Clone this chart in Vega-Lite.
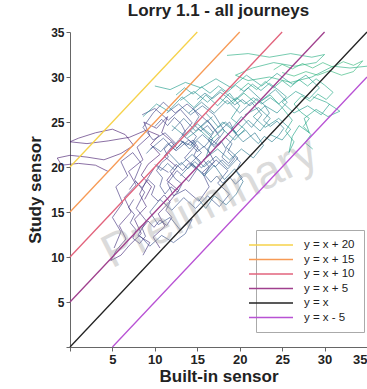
{
  "$schema": "https://vega.github.io/schema/vega-lite/v6.json",
  "width": 297,
  "height": 315,
  "autosize": "none",
  "padding": {"left": 70, "top": 32, "right": 0, "bottom": 42},
  "background": "white",
  "config": {
    "view": {"stroke": null},
    "font": "Liberation Sans",
    "axis": {"grid": false, "domainColor": "#666", "tickColor": "#666", "labelFont": "Liberation Sans", "titleFont": "Liberation Sans", "labelFontWeight": "bold", "titleFontWeight": "bold", "labelColor": "#222", "titleColor": "#222", "tickSize": 4, "labelPadding": 2, "titleFontSize": 17}
  },
  "title": {"text": "Lorry 1.1 - all journeys", "fontSize": 17, "font": "Liberation Sans", "fontWeight": "bold", "color": "#222", "offset": 6, "anchor": "middle"},
  "datasets": {
    "refs": [
      {"ref": "y = x + 20", "x": 0, "y": 20}, {"ref": "y = x + 20", "x": 15, "y": 35},
      {"ref": "y = x + 15", "x": 0, "y": 15}, {"ref": "y = x + 15", "x": 20, "y": 35},
      {"ref": "y = x + 10", "x": 0, "y": 10}, {"ref": "y = x + 10", "x": 25, "y": 35},
      {"ref": "y = x + 5", "x": 0, "y": 5}, {"ref": "y = x + 5", "x": 30, "y": 35},
      {"ref": "y = x", "x": 0, "y": 0}, {"ref": "y = x", "x": 35, "y": 35},
      {"ref": "y = x - 5", "x": 5, "y": 0}, {"ref": "y = x - 5", "x": 35, "y": 30}
    ],
    "journeys": [
      {"j":1,"c":0.08,"x":4.5,"y":19.5},{"j":1,"c":0.08,"x":3,"y":20.2},{"j":1,"c":0.08,"x":1,"y":20.4},{"j":1,"c":0.08,"x":-1,"y":20.2},{"j":1,"c":0.08,"x":-1.5,"y":21},{"j":1,"c":0.08,"x":0,"y":21.3},{"j":1,"c":0.08,"x":2,"y":21.1},{"j":1,"c":0.08,"x":4,"y":20.8},{"j":1,"c":0.08,"x":6,"y":21.5},{"j":1,"c":0.08,"x":7.5,"y":22.4},{"j":1,"c":0.08,"x":6.5,"y":23.6},{"j":1,"c":0.08,"x":5,"y":24.2},{"j":1,"c":0.08,"x":3,"y":23.8},{"j":1,"c":0.08,"x":1,"y":23.2},{"j":1,"c":0.08,"x":0,"y":22.8},{"j":1,"c":0.08,"x":2,"y":22.6},{"j":1,"c":0.08,"x":4.5,"y":22.9},{"j":1,"c":0.08,"x":7,"y":23.3},{"j":1,"c":0.08,"x":9,"y":24.1},{"j":1,"c":0.08,"x":10.5,"y":23.5},{"j":1,"c":0.08,"x":9.5,"y":22.5},{"j":1,"c":0.08,"x":10.6,"y":21.4},{"j":1,"c":0.08,"x":9.2,"y":20.3},{"j":1,"c":0.08,"x":8.4,"y":19.1},{"j":1,"c":0.08,"x":9.6,"y":17.8},{"j":1,"c":0.08,"x":8.8,"y":16.4},
      {"j":2,"c":0.12,"x":10,"y":20},{"j":2,"c":0.12,"x":9,"y":18.5},{"j":2,"c":0.12,"x":8.2,"y":17},{"j":2,"c":0.12,"x":9,"y":15.6},{"j":2,"c":0.12,"x":7.6,"y":14.2},{"j":2,"c":0.12,"x":8.4,"y":12.6},{"j":2,"c":0.12,"x":7,"y":11.3},{"j":2,"c":0.12,"x":6,"y":10.2},{"j":2,"c":0.12,"x":4.8,"y":9.6},{"j":2,"c":0.12,"x":5.5,"y":10.8},{"j":2,"c":0.12,"x":6.6,"y":12},{"j":2,"c":0.12,"x":5.8,"y":13.5},{"j":2,"c":0.12,"x":7.2,"y":15},{"j":2,"c":0.12,"x":6.4,"y":16.6},{"j":2,"c":0.12,"x":7.8,"y":18},{"j":2,"c":0.12,"x":6.9,"y":19.5},{"j":2,"c":0.12,"x":8.6,"y":20.8},{"j":2,"c":0.12,"x":7.9,"y":22.2},{"j":2,"c":0.12,"x":9.4,"y":23.5},{"j":2,"c":0.12,"x":8.7,"y":25},{"j":2,"c":0.12,"x":10.2,"y":24.3},{"j":2,"c":0.12,"x":11.5,"y":25.6},{"j":2,"c":0.12,"x":10.8,"y":23.8},{"j":2,"c":0.12,"x":12.3,"y":22.6},{"j":2,"c":0.12,"x":11.1,"y":21.2},{"j":2,"c":0.12,"x":12.6,"y":20},{"j":2,"c":0.12,"x":11.4,"y":18.5},{"j":2,"c":0.12,"x":12.8,"y":17.4},{"j":2,"c":0.12,"x":11.6,"y":16},{"j":2,"c":0.12,"x":10.4,"y":14.8},{"j":2,"c":0.12,"x":11.2,"y":13.4},{"j":2,"c":0.12,"x":9.8,"y":12.2},{"j":2,"c":0.12,"x":10.6,"y":11},
      {"j":3,"c":0.2,"x":8.5,"y":25.8},{"j":3,"c":0.2,"x":10,"y":26.5},{"j":3,"c":0.2,"x":11.6,"y":25.2},{"j":3,"c":0.2,"x":13,"y":26.4},{"j":3,"c":0.2,"x":14.4,"y":24.9},{"j":3,"c":0.2,"x":13.2,"y":23.6},{"j":3,"c":0.2,"x":14.8,"y":22.4},{"j":3,"c":0.2,"x":13.5,"y":21},{"j":3,"c":0.2,"x":15,"y":19.8},{"j":3,"c":0.2,"x":14,"y":18.4},{"j":3,"c":0.2,"x":12.6,"y":19.6},{"j":3,"c":0.2,"x":11.5,"y":18.2},{"j":3,"c":0.2,"x":12.2,"y":16.8},{"j":3,"c":0.2,"x":13.6,"y":17.5},{"j":3,"c":0.2,"x":15.2,"y":16.2},{"j":3,"c":0.2,"x":16.4,"y":17.8},{"j":3,"c":0.2,"x":15.6,"y":19.4},{"j":3,"c":0.2,"x":17,"y":20.6},{"j":3,"c":0.2,"x":16.2,"y":22},{"j":3,"c":0.2,"x":17.6,"y":23.4},{"j":3,"c":0.2,"x":16.5,"y":24.8},{"j":3,"c":0.2,"x":15.2,"y":25.9},{"j":3,"c":0.2,"x":13.8,"y":27},{"j":3,"c":0.2,"x":12.4,"y":26},{"j":3,"c":0.2,"x":11,"y":27.2},{"j":3,"c":0.2,"x":9.8,"y":26},{"j":3,"c":0.2,"x":8.6,"y":24.4},{"j":3,"c":0.2,"x":9.8,"y":23},{"j":3,"c":0.2,"x":11.2,"y":23.8},{"j":3,"c":0.2,"x":12.6,"y":22.5},{"j":3,"c":0.2,"x":11.4,"y":21.4},{"j":3,"c":0.2,"x":10.2,"y":20.2},{"j":3,"c":0.2,"x":11.6,"y":19.4},
      {"j":4,"c":0.26,"x":9.5,"y":22},{"j":4,"c":0.26,"x":11,"y":23.2},{"j":4,"c":0.26,"x":12.5,"y":21.8},{"j":4,"c":0.26,"x":14,"y":23},{"j":4,"c":0.26,"x":15.5,"y":21.6},{"j":4,"c":0.26,"x":14.2,"y":20.4},{"j":4,"c":0.26,"x":15.8,"y":19.2},{"j":4,"c":0.26,"x":17.2,"y":20.8},{"j":4,"c":0.26,"x":18.6,"y":19.6},{"j":4,"c":0.26,"x":17.4,"y":18.2},{"j":4,"c":0.26,"x":18.8,"y":17},{"j":4,"c":0.26,"x":17.6,"y":15.6},{"j":4,"c":0.26,"x":16.2,"y":16.8},{"j":4,"c":0.26,"x":14.8,"y":15.4},{"j":4,"c":0.26,"x":13.4,"y":16.6},{"j":4,"c":0.26,"x":12,"y":15.2},{"j":4,"c":0.26,"x":10.6,"y":16.4},{"j":4,"c":0.26,"x":9.4,"y":15},{"j":4,"c":0.26,"x":10.4,"y":13.6},{"j":4,"c":0.26,"x":11.8,"y":14.4},{"j":4,"c":0.26,"x":13,"y":13},{"j":4,"c":0.26,"x":14.4,"y":14.2},{"j":4,"c":0.26,"x":13.6,"y":12.6},{"j":4,"c":0.26,"x":12.2,"y":11.6},{"j":4,"c":0.26,"x":10.8,"y":12.4},{"j":4,"c":0.26,"x":9.4,"y":11.2},{"j":4,"c":0.26,"x":8.2,"y":12.4},
      {"j":5,"c":0.32,"x":12,"y":24},{"j":5,"c":0.32,"x":13.4,"y":25.4},{"j":5,"c":0.32,"x":14.8,"y":24},{"j":5,"c":0.32,"x":16.2,"y":25.2},{"j":5,"c":0.32,"x":17.4,"y":23.8},{"j":5,"c":0.32,"x":18.8,"y":25},{"j":5,"c":0.32,"x":19.6,"y":23.6},{"j":5,"c":0.32,"x":18.4,"y":22.2},{"j":5,"c":0.32,"x":19.8,"y":21},{"j":5,"c":0.32,"x":18.6,"y":19.8},{"j":5,"c":0.32,"x":17.2,"y":21.2},{"j":5,"c":0.32,"x":15.8,"y":20},{"j":5,"c":0.32,"x":14.4,"y":21.4},{"j":5,"c":0.32,"x":13,"y":20.2},{"j":5,"c":0.32,"x":11.6,"y":21.6},{"j":5,"c":0.32,"x":12.8,"y":23},{"j":5,"c":0.32,"x":14.2,"y":22.4},{"j":5,"c":0.32,"x":15.6,"y":23.6},{"j":5,"c":0.32,"x":17,"y":22.4},{"j":5,"c":0.32,"x":18.2,"y":24},{"j":5,"c":0.32,"x":17,"y":25.8},{"j":5,"c":0.32,"x":15.6,"y":26.8},{"j":5,"c":0.32,"x":14.2,"y":25.8},{"j":5,"c":0.32,"x":12.8,"y":27},{"j":5,"c":0.32,"x":11.4,"y":26},
      {"j":6,"c":0.4,"x":14,"y":26},{"j":6,"c":0.4,"x":15.5,"y":27.2},{"j":6,"c":0.4,"x":17,"y":26},{"j":6,"c":0.4,"x":18.5,"y":27.4},{"j":6,"c":0.4,"x":20,"y":26},{"j":6,"c":0.4,"x":21.4,"y":27.2},{"j":6,"c":0.4,"x":22.6,"y":25.8},{"j":6,"c":0.4,"x":21.4,"y":24.4},{"j":6,"c":0.4,"x":20.2,"y":25.6},{"j":6,"c":0.4,"x":19,"y":24.2},{"j":6,"c":0.4,"x":20.4,"y":22.8},{"j":6,"c":0.4,"x":21.8,"y":23.8},{"j":6,"c":0.4,"x":22.8,"y":22.4},{"j":6,"c":0.4,"x":21.6,"y":21},{"j":6,"c":0.4,"x":20.2,"y":22},{"j":6,"c":0.4,"x":18.8,"y":20.8},{"j":6,"c":0.4,"x":17.4,"y":22},{"j":6,"c":0.4,"x":16,"y":21},{"j":6,"c":0.4,"x":16.8,"y":23.2},{"j":6,"c":0.4,"x":15.4,"y":24.4},{"j":6,"c":0.4,"x":16.8,"y":25.6},
      {"j":7,"c":0.48,"x":13,"y":27.4},{"j":7,"c":0.48,"x":14.6,"y":28.4},{"j":7,"c":0.48,"x":16.2,"y":27.2},{"j":7,"c":0.48,"x":17.8,"y":28.6},{"j":7,"c":0.48,"x":19.4,"y":27.4},{"j":7,"c":0.48,"x":21,"y":28.8},{"j":7,"c":0.48,"x":22.6,"y":27.4},{"j":7,"c":0.48,"x":24.2,"y":28.6},{"j":7,"c":0.48,"x":25.6,"y":27.2},{"j":7,"c":0.48,"x":24.4,"y":26},{"j":7,"c":0.48,"x":23,"y":26.8},{"j":7,"c":0.48,"x":21.6,"y":25.6},{"j":7,"c":0.48,"x":23,"y":24.4},{"j":7,"c":0.48,"x":24.6,"y":25.4},{"j":7,"c":0.48,"x":26,"y":24.2},{"j":7,"c":0.48,"x":25,"y":23},{"j":7,"c":0.48,"x":23.6,"y":23.6},
      {"j":8,"c":0.55,"x":10,"y":29},{"j":8,"c":0.55,"x":11.8,"y":28.6},{"j":8,"c":0.55,"x":13.6,"y":29.4},{"j":8,"c":0.55,"x":15.4,"y":28.8},{"j":8,"c":0.55,"x":17.2,"y":29.8},{"j":8,"c":0.55,"x":19,"y":28.8},{"j":8,"c":0.55,"x":20.8,"y":30.2},{"j":8,"c":0.55,"x":22.6,"y":29},{"j":8,"c":0.55,"x":24.4,"y":30.4},{"j":8,"c":0.55,"x":26.2,"y":29.2},{"j":8,"c":0.55,"x":27.8,"y":30.2},{"j":8,"c":0.55,"x":29.4,"y":28.8},{"j":8,"c":0.55,"x":28.2,"y":27.6},{"j":8,"c":0.55,"x":26.6,"y":28.4},{"j":8,"c":0.55,"x":25,"y":27.2},{"j":8,"c":0.55,"x":26.4,"y":26},{"j":8,"c":0.55,"x":28,"y":26.8},{"j":8,"c":0.55,"x":29.6,"y":25.8},{"j":8,"c":0.55,"x":30.6,"y":27},
      {"j":9,"c":0.62,"x":18.5,"y":32.4},{"j":9,"c":0.62,"x":21,"y":32.6},{"j":9,"c":0.62,"x":23.5,"y":32.2},{"j":9,"c":0.62,"x":26,"y":32.6},{"j":9,"c":0.62,"x":28.5,"y":32.2},{"j":9,"c":0.62,"x":30,"y":32.5},{"j":9,"c":0.62,"x":29,"y":31.6},{"j":9,"c":0.62,"x":26.5,"y":31.2},{"j":9,"c":0.62,"x":24,"y":31.6},{"j":9,"c":0.62,"x":21.5,"y":31},{"j":9,"c":0.62,"x":19.5,"y":30.2},{"j":9,"c":0.62,"x":21,"y":29.6},{"j":9,"c":0.62,"x":23.5,"y":30},{"j":9,"c":0.62,"x":26,"y":29.4},{"j":9,"c":0.62,"x":28.5,"y":30},{"j":9,"c":0.62,"x":31,"y":31.2},{"j":9,"c":0.62,"x":33,"y":31},{"j":9,"c":0.62,"x":35,"y":31.2},
      {"j":10,"c":0.58,"x":19,"y":27},{"j":10,"c":0.58,"x":20.5,"y":28.2},{"j":10,"c":0.58,"x":22,"y":27},{"j":10,"c":0.58,"x":23.6,"y":28},{"j":10,"c":0.58,"x":25,"y":26.6},{"j":10,"c":0.58,"x":26.2,"y":25.2},{"j":10,"c":0.58,"x":25.4,"y":24},{"j":10,"c":0.58,"x":26.4,"y":22.8},{"j":10,"c":0.58,"x":25.8,"y":21.6},{"j":10,"c":0.58,"x":26.2,"y":23.4},{"j":10,"c":0.58,"x":27,"y":24.6},{"j":10,"c":0.58,"x":28.2,"y":23.8},{"j":10,"c":0.58,"x":27.6,"y":25.4},{"j":10,"c":0.58,"x":29,"y":26.4},{"j":10,"c":0.58,"x":30.4,"y":25.6},{"j":10,"c":0.58,"x":31.8,"y":26.2},{"j":10,"c":0.58,"x":30.2,"y":27.2},{"j":10,"c":0.58,"x":28.6,"y":27.8},
      {"j":11,"c":0.5,"x":8.6,"y":25.6},{"j":11,"c":0.5,"x":10.2,"y":27},{"j":11,"c":0.5,"x":11.6,"y":26.2},{"j":11,"c":0.5,"x":13.2,"y":27.8},{"j":11,"c":0.5,"x":14.6,"y":26.6},{"j":11,"c":0.5,"x":16,"y":28},{"j":11,"c":0.5,"x":17.4,"y":26.8},{"j":11,"c":0.5,"x":18.8,"y":28.2},{"j":11,"c":0.5,"x":20,"y":26.8},{"j":11,"c":0.5,"x":19,"y":25.4},{"j":11,"c":0.5,"x":20.6,"y":24.2},{"j":11,"c":0.5,"x":19.4,"y":23},{"j":11,"c":0.5,"x":18,"y":24.2},{"j":11,"c":0.5,"x":16.6,"y":23},{"j":11,"c":0.5,"x":15.2,"y":24.2},{"j":11,"c":0.5,"x":13.8,"y":23.2},
      {"j":12,"c":0.36,"x":13,"y":19},{"j":12,"c":0.36,"x":14.4,"y":20.4},{"j":12,"c":0.36,"x":15.8,"y":19},{"j":12,"c":0.36,"x":17,"y":20.2},{"j":12,"c":0.36,"x":18.2,"y":18.6},{"j":12,"c":0.36,"x":19.4,"y":19.8},{"j":12,"c":0.36,"x":20.4,"y":18.4},{"j":12,"c":0.36,"x":19.6,"y":17},{"j":12,"c":0.36,"x":18.4,"y":15.8},{"j":12,"c":0.36,"x":17,"y":16.8},{"j":12,"c":0.36,"x":16,"y":15.4},{"j":12,"c":0.36,"x":15,"y":16.6},
      {"j":13,"c":0.15,"x":5.2,"y":11},{"j":13,"c":0.15,"x":6,"y":12.8},{"j":13,"c":0.15,"x":5,"y":14.4},{"j":13,"c":0.15,"x":6.2,"y":16},{"j":13,"c":0.15,"x":5.4,"y":17.8},{"j":13,"c":0.15,"x":6.8,"y":19},{"j":13,"c":0.15,"x":6,"y":20.6},{"j":13,"c":0.15,"x":7.4,"y":21.6},{"j":13,"c":0.15,"x":8.4,"y":20.4},{"j":13,"c":0.15,"x":7.6,"y":18.6},{"j":13,"c":0.15,"x":8.8,"y":17.2},{"j":13,"c":0.15,"x":7.8,"y":15.4},{"j":13,"c":0.15,"x":9,"y":14},{"j":13,"c":0.15,"x":8,"y":12.4},{"j":13,"c":0.15,"x":9.4,"y":11.6},{"j":13,"c":0.15,"x":8.6,"y":10.2},
      {"j":14,"c":0.45,"x":12,"y":24.6},{"j":14,"c":0.45,"x":13.6,"y":23.4},{"j":14,"c":0.45,"x":15,"y":24.8},{"j":14,"c":0.45,"x":16.6,"y":23.6},{"j":14,"c":0.45,"x":18,"y":25},{"j":14,"c":0.45,"x":19.6,"y":23.8},{"j":14,"c":0.45,"x":21,"y":25.2},{"j":14,"c":0.45,"x":22.4,"y":24},{"j":14,"c":0.45,"x":23.6,"y":25.4},{"j":14,"c":0.45,"x":22.2,"y":26.6},{"j":14,"c":0.45,"x":20.6,"y":25.8},
      {"j":15,"c":0.22,"x":10,"y":24.5},{"j":15,"c":0.22,"x":10.8,"y":25.3},{"j":15,"c":0.22,"x":11.5,"y":24.6},{"j":15,"c":0.22,"x":12.3,"y":25.5},{"j":15,"c":0.22,"x":13.1,"y":24.8},{"j":15,"c":0.22,"x":13.6,"y":23.9},{"j":15,"c":0.22,"x":12.9,"y":23.1},{"j":15,"c":0.22,"x":13.7,"y":22.4},{"j":15,"c":0.22,"x":14.5,"y":23},{"j":15,"c":0.22,"x":15.1,"y":22.2},{"j":15,"c":0.22,"x":14.6,"y":21.3},{"j":15,"c":0.22,"x":15.4,"y":20.6},{"j":15,"c":0.22,"x":14.8,"y":19.8},{"j":15,"c":0.22,"x":14,"y":20.4},{"j":15,"c":0.22,"x":13.3,"y":19.6},{"j":15,"c":0.22,"x":12.5,"y":20.3},{"j":15,"c":0.22,"x":11.8,"y":19.5},{"j":15,"c":0.22,"x":12.4,"y":18.7},{"j":15,"c":0.22,"x":13.2,"y":18.1},{"j":15,"c":0.22,"x":12.7,"y":17.2},{"j":15,"c":0.22,"x":11.9,"y":17.8},{"j":15,"c":0.22,"x":11.2,"y":17},{"j":15,"c":0.22,"x":10.6,"y":17.9},{"j":15,"c":0.22,"x":10.9,"y":18.8},{"j":15,"c":0.22,"x":10.2,"y":19.6},{"j":15,"c":0.22,"x":10.8,"y":20.5},{"j":15,"c":0.22,"x":11.6,"y":21.1},{"j":15,"c":0.22,"x":11.1,"y":22},{"j":15,"c":0.22,"x":11.9,"y":22.8},{"j":15,"c":0.22,"x":12.6,"y":22.1},{"j":15,"c":0.22,"x":13.4,"y":22.9},
      {"j":16,"c":0.28,"x":14.5,"y":26.5},{"j":16,"c":0.28,"x":15.2,"y":25.6},{"j":16,"c":0.28,"x":14.6,"y":24.7},{"j":16,"c":0.28,"x":15.4,"y":24},{"j":16,"c":0.28,"x":16.2,"y":24.6},{"j":16,"c":0.28,"x":16.9,"y":23.8},{"j":16,"c":0.28,"x":16.3,"y":23},{"j":16,"c":0.28,"x":17,"y":22.2},{"j":16,"c":0.28,"x":17.8,"y":22.9},{"j":16,"c":0.28,"x":18.4,"y":22},{"j":16,"c":0.28,"x":17.9,"y":21.1},{"j":16,"c":0.28,"x":18.7,"y":20.4},{"j":16,"c":0.28,"x":19.4,"y":21.2},{"j":16,"c":0.28,"x":20.1,"y":20.5},{"j":16,"c":0.28,"x":19.6,"y":19.6},{"j":16,"c":0.28,"x":20.3,"y":18.8},{"j":16,"c":0.28,"x":19.5,"y":18.1},{"j":16,"c":0.28,"x":18.8,"y":18.9},{"j":16,"c":0.28,"x":18,"y":18.2},{"j":16,"c":0.28,"x":17.3,"y":19},{"j":16,"c":0.28,"x":16.6,"y":18.3},{"j":16,"c":0.28,"x":15.9,"y":19.1},{"j":16,"c":0.28,"x":16.4,"y":20},{"j":16,"c":0.28,"x":15.7,"y":20.8},{"j":16,"c":0.28,"x":16.5,"y":21.5},{"j":16,"c":0.28,"x":15.8,"y":22.3},{"j":16,"c":0.28,"x":15,"y":21.7},{"j":16,"c":0.28,"x":14.3,"y":22.5},{"j":16,"c":0.28,"x":14.9,"y":23.4},{"j":16,"c":0.28,"x":14.1,"y":24.1},{"j":16,"c":0.28,"x":13.4,"y":23.5},
      {"j":17,"c":0.42,"x":15,"y":27.5},{"j":17,"c":0.42,"x":15.9,"y":28.2},{"j":17,"c":0.42,"x":16.8,"y":27.6},{"j":17,"c":0.42,"x":17.7,"y":28.3},{"j":17,"c":0.42,"x":18.6,"y":27.7},{"j":17,"c":0.42,"x":19.4,"y":26.9},{"j":17,"c":0.42,"x":20.3,"y":27.5},{"j":17,"c":0.42,"x":21.2,"y":26.8},{"j":17,"c":0.42,"x":22,"y":27.6},{"j":17,"c":0.42,"x":22.9,"y":26.9},{"j":17,"c":0.42,"x":23.5,"y":26},{"j":17,"c":0.42,"x":22.8,"y":25.2},{"j":17,"c":0.42,"x":23.6,"y":24.5},{"j":17,"c":0.42,"x":24.4,"y":25.1},{"j":17,"c":0.42,"x":25.2,"y":24.3},{"j":17,"c":0.42,"x":24.6,"y":23.5},{"j":17,"c":0.42,"x":23.8,"y":22.8},{"j":17,"c":0.42,"x":22.9,"y":23.4},{"j":17,"c":0.42,"x":22.2,"y":22.6},{"j":17,"c":0.42,"x":21.4,"y":23.3},{"j":17,"c":0.42,"x":20.7,"y":24.1},{"j":17,"c":0.42,"x":19.8,"y":23.5},{"j":17,"c":0.42,"x":19.1,"y":24.3},{"j":17,"c":0.42,"x":18.3,"y":25},{"j":17,"c":0.42,"x":17.5,"y":24.4},{"j":17,"c":0.42,"x":16.8,"y":25.2},{"j":17,"c":0.42,"x":16,"y":26},
      {"j":18,"c":0.6,"x":20,"y":28.5},{"j":18,"c":0.6,"x":21,"y":29.3},{"j":18,"c":0.6,"x":22,"y":28.6},{"j":18,"c":0.6,"x":23,"y":29.5},{"j":18,"c":0.6,"x":24,"y":28.8},{"j":18,"c":0.6,"x":25,"y":29.6},{"j":18,"c":0.6,"x":26,"y":28.9},{"j":18,"c":0.6,"x":27,"y":29.7},{"j":18,"c":0.6,"x":28,"y":29},{"j":18,"c":0.6,"x":29,"y":29.8},{"j":18,"c":0.6,"x":30,"y":29.1},{"j":18,"c":0.6,"x":31,"y":28.3},{"j":18,"c":0.6,"x":30.2,"y":27.5},{"j":18,"c":0.6,"x":29.2,"y":28.1},{"j":18,"c":0.6,"x":28.3,"y":27.3},{"j":18,"c":0.6,"x":27.3,"y":27.9},{"j":18,"c":0.6,"x":26.4,"y":27},{"j":18,"c":0.6,"x":27.2,"y":26.1},{"j":18,"c":0.6,"x":28.2,"y":25.4},{"j":18,"c":0.6,"x":27.5,"y":24.5},{"j":18,"c":0.6,"x":28.4,"y":23.6},{"j":18,"c":0.6,"x":27.7,"y":22.7},{"j":18,"c":0.6,"x":28.6,"y":22},
      {"j":19,"c":0.66,"x":24,"y":30.8},{"j":19,"c":0.66,"x":25,"y":31.4},{"j":19,"c":0.66,"x":26.2,"y":30.9},{"j":19,"c":0.66,"x":27.4,"y":31.5},{"j":19,"c":0.66,"x":28.6,"y":31},{"j":19,"c":0.66,"x":29.8,"y":31.6},{"j":19,"c":0.66,"x":31,"y":31.1},{"j":19,"c":0.66,"x":32.2,"y":31.7},{"j":19,"c":0.66,"x":33.4,"y":31.3},{"j":19,"c":0.66,"x":34.5,"y":31.8},{"j":19,"c":0.66,"x":33.4,"y":30.6},{"j":19,"c":0.66,"x":32,"y":30.2},{"j":19,"c":0.66,"x":30.6,"y":30.7},{"j":19,"c":0.66,"x":29.2,"y":30.2},{"j":19,"c":0.66,"x":27.8,"y":30.6},{"j":19,"c":0.66,"x":26.4,"y":30.1},{"j":19,"c":0.66,"x":25,"y":30.5},
      {"j":20,"c":0.18,"x":7,"y":17.5},{"j":20,"c":0.18,"x":7.7,"y":18.4},{"j":20,"c":0.18,"x":8.5,"y":17.7},{"j":20,"c":0.18,"x":9.2,"y":18.6},{"j":20,"c":0.18,"x":10,"y":17.9},{"j":20,"c":0.18,"x":9.6,"y":16.9},{"j":20,"c":0.18,"x":10.4,"y":16.2},{"j":20,"c":0.18,"x":11.1,"y":16.9},{"j":20,"c":0.18,"x":11.8,"y":16.1},{"j":20,"c":0.18,"x":11.3,"y":15.2},{"j":20,"c":0.18,"x":12,"y":14.4},{"j":20,"c":0.18,"x":11.4,"y":13.5},{"j":20,"c":0.18,"x":10.6,"y":14.1},{"j":20,"c":0.18,"x":9.9,"y":13.3},{"j":20,"c":0.18,"x":9.2,"y":14},{"j":20,"c":0.18,"x":8.5,"y":13.2},{"j":20,"c":0.18,"x":8.9,"y":12.3},{"j":20,"c":0.18,"x":8.2,"y":11.5},{"j":20,"c":0.18,"x":7.4,"y":12.1},{"j":20,"c":0.18,"x":7.8,"y":13},{"j":20,"c":0.18,"x":7.1,"y":13.8},{"j":20,"c":0.18,"x":7.6,"y":14.7},{"j":20,"c":0.18,"x":6.9,"y":15.5},{"j":20,"c":0.18,"x":7.5,"y":16.4},
      {"j":21,"c":0.3,"x":9,"y":21.5},{"j":21,"c":0.3,"x":9.8,"y":22.3},{"j":21,"c":0.3,"x":10.7,"y":21.7},{"j":21,"c":0.3,"x":11.5,"y":22.6},{"j":21,"c":0.3,"x":12.4,"y":21.9},{"j":21,"c":0.3,"x":13.3,"y":22.8},{"j":21,"c":0.3,"x":14.1,"y":22},{"j":21,"c":0.3,"x":15,"y":22.9},{"j":21,"c":0.3,"x":15.8,"y":22.2},{"j":21,"c":0.3,"x":16.6,"y":23.1},{"j":21,"c":0.3,"x":17.5,"y":22.4},{"j":21,"c":0.3,"x":18.3,"y":23.3},{"j":21,"c":0.3,"x":19.1,"y":22.6},{"j":21,"c":0.3,"x":18.6,"y":21.7},{"j":21,"c":0.3,"x":19.4,"y":20.9},{"j":21,"c":0.3,"x":18.7,"y":20.1},{"j":21,"c":0.3,"x":17.9,"y":20.8},{"j":21,"c":0.3,"x":17.1,"y":20},{"j":21,"c":0.3,"x":16.3,"y":20.7},{"j":21,"c":0.3,"x":15.5,"y":19.9},{"j":21,"c":0.3,"x":14.7,"y":20.6},{"j":21,"c":0.3,"x":13.9,"y":19.8},{"j":21,"c":0.3,"x":13.1,"y":20.5},{"j":21,"c":0.3,"x":12.3,"y":19.7},{"j":21,"c":0.3,"x":11.5,"y":20.4},{"j":21,"c":0.3,"x":10.7,"y":19.6},{"j":21,"c":0.3,"x":10,"y":20.3},
      {"j":22,"c":0.52,"x":12.5,"y":28},{"j":22,"c":0.52,"x":13.5,"y":28.8},{"j":22,"c":0.52,"x":14.5,"y":28.1},{"j":22,"c":0.52,"x":15.5,"y":28.9},{"j":22,"c":0.52,"x":16.5,"y":28.2},{"j":22,"c":0.52,"x":17.5,"y":29},{"j":22,"c":0.52,"x":18.5,"y":28.3},{"j":22,"c":0.52,"x":19.5,"y":29.1},{"j":22,"c":0.52,"x":20.5,"y":28.4},{"j":22,"c":0.52,"x":21.5,"y":29.2},{"j":22,"c":0.52,"x":22.5,"y":28.5},{"j":22,"c":0.52,"x":23.5,"y":29.3},{"j":22,"c":0.52,"x":24.5,"y":28.6},{"j":22,"c":0.52,"x":25.5,"y":27.8},{"j":22,"c":0.52,"x":24.6,"y":27},{"j":22,"c":0.52,"x":23.6,"y":27.7},{"j":22,"c":0.52,"x":22.6,"y":27},{"j":22,"c":0.52,"x":21.6,"y":27.7},{"j":22,"c":0.52,"x":20.6,"y":27},{"j":22,"c":0.52,"x":19.6,"y":27.7},{"j":22,"c":0.52,"x":18.6,"y":27},{"j":22,"c":0.52,"x":17.6,"y":27.7}
    ],
    "mark": [{"t": "Preliminary", "x": 16.5, "y": 16}]
  },
  "layer": [
    {
      "data": {"name": "journeys"},
      "mark": {"type": "line", "strokeWidth": 0.8, "opacity": 0.8, "clip": false},
      "encoding": {
        "x": {"field": "x", "type": "quantitative", "scale": {"domain": [0, 35], "nice": false, "zero": false}, "axis": {"values": [0, 5, 10, 15, 20, 25, 30, 35], "labelExpr": "datum.value == 0 ? '' : datum.label", "labelFontSize": 13, "title": "Built-in sensor", "titlePadding": 2}},
        "y": {"field": "y", "type": "quantitative", "scale": {"domain": [0, 35], "nice": false, "zero": false}, "axis": {"values": [0, 5, 10, 15, 20, 25, 30, 35], "labelExpr": "datum.value == 0 ? '' : datum.label", "labelFontSize": 12, "title": "Study sensor", "titlePadding": 6}},
        "detail": {"field": "j", "type": "nominal"},
        "color": {"field": "c", "type": "quantitative", "scale": {"scheme": "viridis", "domain": [0, 1]}, "legend": null},
        "order": {"value": null}
      }
    },
    {
      "data": {"name": "mark"},
      "mark": {"type": "text", "angle": -27, "fontSize": 47, "color": "#999", "opacity": 0.35, "font": "Liberation Sans"},
      "encoding": {
        "x": {"field": "x", "type": "quantitative"},
        "y": {"field": "y", "type": "quantitative"},
        "text": {"field": "t"}
      }
    },
    {
      "data": {"name": "refs"},
      "mark": {"type": "line", "strokeWidth": 1.3},
      "encoding": {
        "x": {"field": "x", "type": "quantitative"},
        "y": {"field": "y", "type": "quantitative"},
        "stroke": {"field": "ref", "type": "nominal", "scale": {"domain": ["y = x + 20", "y = x + 15", "y = x + 10", "y = x + 5", "y = x", "y = x - 5"], "range": ["#f6d24a", "#f79a55", "#e2637c", "#a0408e", "#222222", "#b852d4"]},
          "legend": {"title": null, "orient": "none", "legendX": 186, "legendY": 198, "symbolType": "M-4.4,0H4.4", "symbolSize": 100, "symbolStrokeWidth": 1.5, "labelFontSize": 11.5, "labelFont": "Liberation Sans", "labelColor": "#222", "fillColor": "white", "strokeColor": "#aaa", "padding": 9, "rowPadding": 2.5, "labelOffset": 27}
        }
      }
    }
  ],
  "resolve": {"scale": {"color": "independent"}}
}
